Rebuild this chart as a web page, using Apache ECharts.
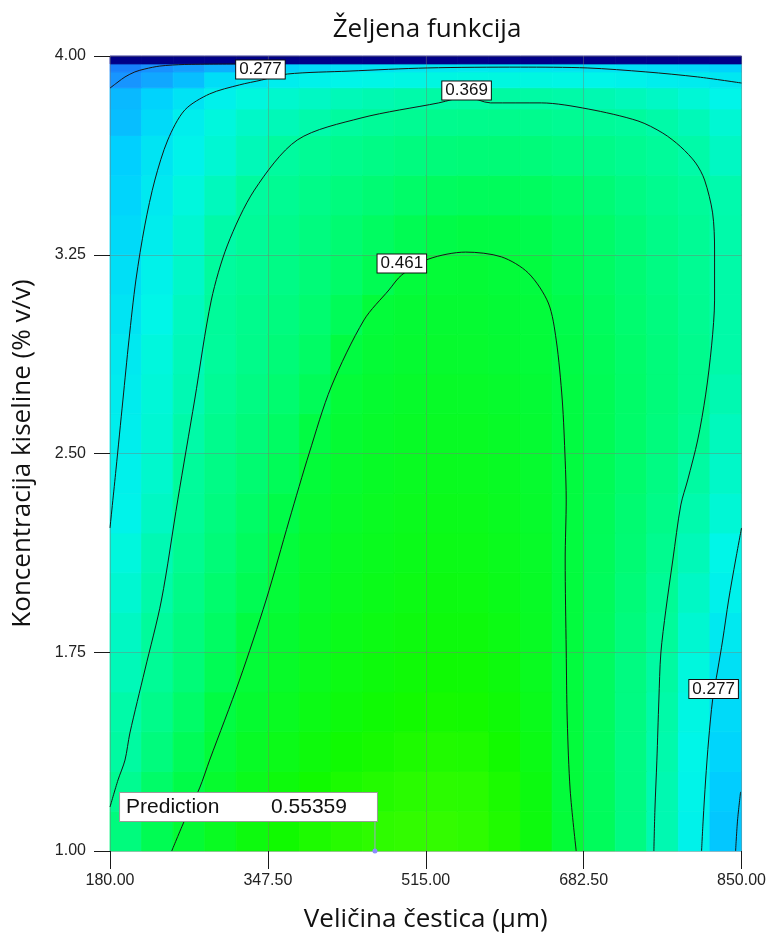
<!DOCTYPE html>
<html>
<head>
<meta charset="utf-8">
<script src="https://cdn.jsdelivr.net/npm/echarts@6/dist/echarts.min.js"></script>
<style>
html, body { margin: 0; padding: 0; background: #ffffff; }
#chart { width: 769px; height: 951px; }
</style>
</head>
<body>
<div id="chart"></div>
<script>
// ---- axes -------------------------------------------------------------
const xRange = [180, 850];          // particle size, µm
const yRange = [1.00, 4.00];        // acid concentration, % v/v
const xTickValues = [180, 347.5, 515, 682.5, 850];
const yTickValues = [1.00, 1.75, 2.50, 3.25, 4.00];

// ---- desirability surface, sampled on a 20 x 23 grid --------------------
// row boundaries along the concentration axis (finer near the upper edge)
const rowEdges = [1.00, 1.15, 1.30, 1.45, 1.60, 1.75, 1.90, 2.05, 2.20, 2.35, 2.50,
                  2.65, 2.80, 2.95, 3.10, 3.25, 3.40, 3.55, 3.70, 3.80, 3.88, 3.94, 3.97, 4.00];
const columnCount = 20;

// one array per row, left (180 µm) to right (850 µm)
const d_100 = [0.400,0.440,0.470,0.490,0.510,0.525,0.537,0.547,0.553,0.557,0.558,0.553,0.540,0.510,0.468,0.432,0.396,0.352,0.293,0.215];
const d_115 = [0.382,0.420,0.450,0.477,0.497,0.512,0.525,0.535,0.543,0.548,0.550,0.548,0.535,0.508,0.464,0.430,0.396,0.352,0.296,0.222];
const d_130 = [0.367,0.400,0.435,0.466,0.485,0.500,0.513,0.523,0.531,0.537,0.540,0.538,0.527,0.503,0.462,0.428,0.395,0.356,0.300,0.235];
const d_145 = [0.360,0.388,0.420,0.455,0.475,0.490,0.503,0.513,0.521,0.527,0.530,0.528,0.518,0.497,0.461,0.428,0.396,0.360,0.305,0.245];
const d_160 = [0.345,0.377,0.405,0.438,0.467,0.482,0.495,0.505,0.512,0.518,0.521,0.520,0.511,0.492,0.460,0.428,0.397,0.366,0.310,0.257];
const d_175 = [0.335,0.372,0.398,0.425,0.457,0.474,0.488,0.498,0.505,0.510,0.513,0.512,0.504,0.488,0.460,0.430,0.400,0.372,0.322,0.275];
const d_190 = [0.322,0.360,0.390,0.415,0.440,0.467,0.481,0.492,0.499,0.504,0.507,0.506,0.499,0.485,0.460,0.432,0.405,0.377,0.333,0.290];
const d_205 = [0.310,0.350,0.382,0.405,0.430,0.463,0.477,0.487,0.494,0.499,0.502,0.501,0.495,0.482,0.459,0.434,0.410,0.383,0.345,0.300];
const d_220 = [0.295,0.335,0.375,0.398,0.422,0.450,0.472,0.482,0.490,0.495,0.498,0.497,0.491,0.479,0.458,0.435,0.412,0.390,0.355,0.318];
const d_235 = [0.290,0.325,0.372,0.392,0.412,0.435,0.466,0.477,0.485,0.490,0.493,0.492,0.487,0.476,0.458,0.437,0.416,0.395,0.366,0.330];
const d_250 = [0.285,0.320,0.360,0.385,0.403,0.425,0.455,0.472,0.480,0.485,0.488,0.487,0.483,0.473,0.457,0.438,0.419,0.400,0.380,0.340];
const d_265 = [0.280,0.315,0.350,0.378,0.395,0.413,0.435,0.467,0.475,0.480,0.483,0.482,0.478,0.470,0.456,0.438,0.420,0.403,0.385,0.352];
const d_280 = [0.275,0.310,0.345,0.372,0.388,0.405,0.423,0.457,0.469,0.474,0.477,0.476,0.472,0.466,0.452,0.435,0.418,0.402,0.385,0.360];
const d_295 = [0.265,0.300,0.338,0.373,0.385,0.398,0.413,0.435,0.465,0.470,0.473,0.473,0.469,0.464,0.447,0.430,0.413,0.398,0.382,0.360];
const d_310 = [0.255,0.293,0.330,0.369,0.380,0.392,0.405,0.420,0.440,0.463,0.468,0.469,0.465,0.458,0.440,0.425,0.410,0.395,0.380,0.360];
const d_325 = [0.245,0.283,0.322,0.360,0.375,0.387,0.398,0.412,0.427,0.440,0.450,0.455,0.453,0.445,0.432,0.420,0.405,0.390,0.378,0.358];
const d_340 = [0.235,0.275,0.310,0.340,0.369,0.380,0.390,0.400,0.410,0.420,0.428,0.432,0.432,0.428,0.420,0.408,0.395,0.383,0.373,0.355];
const d_355 = [0.225,0.265,0.295,0.320,0.345,0.368,0.378,0.385,0.392,0.398,0.403,0.406,0.406,0.403,0.397,0.390,0.382,0.373,0.360,0.335];
const d_370 = [0.205,0.245,0.285,0.310,0.330,0.345,0.357,0.368,0.375,0.380,0.384,0.386,0.386,0.384,0.380,0.375,0.370,0.360,0.345,0.320];
const d_380 = [0.200,0.230,0.262,0.290,0.310,0.325,0.335,0.345,0.352,0.358,0.363,0.366,0.366,0.364,0.360,0.352,0.343,0.333,0.318,0.298];
const d_388 = [0.160,0.180,0.205,0.250,0.272,0.285,0.293,0.298,0.302,0.305,0.307,0.308,0.308,0.307,0.304,0.298,0.292,0.285,0.280,0.270];
const d_394 = [0.140,0.155,0.170,0.190,0.210,0.230,0.245,0.255,0.262,0.267,0.270,0.272,0.272,0.270,0.267,0.262,0.255,0.248,0.240,0.230];
const d_397 = [0,0,0,0,0,0,0,0,0,0,0,0,0,0,0,0,0,0,0,0];
const surfaceRows = [d_100, d_115, d_130, d_145, d_160, d_175, d_190, d_205, d_220, d_235, d_250, d_265,
                     d_280, d_295, d_310, d_325, d_340, d_355, d_370, d_380, d_388, d_394, d_397];

// ---- contour lines [µm, % v/v] ----------------------------------------
const contourLevels = [0.185, 0.277, 0.369, 0.461];
const contour185TopLeft = [[180,3.879],[188.5,3.902],[195.9,3.921],[206.4,3.940],[217.0,3.951],[232.8,3.962],[259.3,3.968],[317.4,3.970]];
const contour185BottomRight = [[849.0,1.223],[845.8,1.117],[843.7,1.0]];
const contour277Left = [[180,2.219],[186.3,2.438],[193.7,2.702],[200.1,2.928],[207.5,3.155],[217.0,3.362],[227.6,3.532],
  [241.3,3.683],[259.3,3.796],[285.7,3.857],[317.4,3.891],[340.6,3.909],[368.1,3.932],[433.6,3.943],[517.1,3.955],
  [615.4,3.958],[686.2,3.955],[748.5,3.940],[803.5,3.921],[850,3.898]];
const contour277Right = [[850,2.219],[843.7,2.098],[836.3,1.947],[830.0,1.796],[824.7,1.683],[819.3,1.570],[815.1,1.419],
  [811.9,1.268],[809.3,1.117],[807.6,1.0]];
const contour369 = [[180,1.166],[188.5,1.268],[195.9,1.343],[201.1,1.445],[217.0,1.683],[234.6,1.947],[251.9,2.325],
  [269.8,2.702],[287.5,3.079],[304.7,3.287],[333.2,3.494],[378.7,3.683],[446.3,3.766],[528.7,3.823],[558.3,3.845],
  [583.7,3.823],[637.6,3.823],[687.3,3.800],[740.1,3.755],[766.5,3.709],[785.6,3.657],[801.4,3.596],[810.8,3.532],
  [819.3,3.408],[821.4,3.268],[821.4,3.079],[818.3,2.909],[811.9,2.721],[803.5,2.551],[792.9,2.400],[785.6,2.306],
  [777.1,2.098],[769.7,1.909],[764.4,1.747],[762.3,1.570],[760.2,1.343],[758.1,1.155],[757.0,1.0]];
const contour461 = [[245.5,1.0],[259.3,1.117],[275.1,1.238],[285.7,1.343],[317.4,1.645],[345.6,1.947],[370.2,2.249],
  [391.4,2.502],[414.6,2.751],[449.5,3.004],[475.9,3.117],[489.6,3.174],[518.2,3.234],[557.3,3.260],[595.3,3.242],
  [623.8,3.181],[645.0,3.068],[653.4,2.928],[659.8,2.702],[662.9,2.475],[664.0,2.325],[662.9,2.098],[664.0,1.758],
  [665.1,1.494],[668.2,1.230],[674.6,1.0]];

// label anchors on the contours: [µm, % v/v, level]
const contourLabelPoints = [[339.6,3.949,0.277],[558.3,3.870,0.369],[489.6,3.217,0.461],[820.4,1.611,0.277]];

// predicted point shown in the callout
const predictionPoint = [461.1, 1.00];
const predictionValue = 0.55359;

// ---- build cells -------------------------------------------------------
const colStep = (xRange[1] - xRange[0]) / columnCount;
const cells = [];
surfaceRows.forEach((row, j) => {
  row.forEach((v, i) => {
    cells.push([xRange[0] + i * colStep, xRange[0] + (i + 1) * colStep, rowEdges[j], rowEdges[j + 1], v]);
  });
});

const lineColor = '#161616';
function contourSeries(points, name) {
  return {
    type: 'line', name: name, data: points, showSymbol: false, symbol: 'none',
    smooth: 0.3, z: 4, silent: true,
    lineStyle: { color: lineColor, width: 1 }
  };
}

const chart = echarts.init(document.getElementById('chart'), null, { renderer: 'canvas' });
const axisFont = 'Liberation Sans, Arial, sans-serif';
const titleFont = 'Open Sans, DejaVu Sans, sans-serif';
const gridLine = { show: true, lineStyle: { color: 'rgba(120,120,120,0.42)', width: 1 } };

chart.setOption({
  animation: false,
  backgroundColor: '#ffffff',
  grid: { left: 110, right: 25, top: 56, bottom: 100, containLabel: false },
  graphic: [{
    type: 'text', x: 427, y: 30,
    style: { text: 'Željena funkcija', font: '26px ' + titleFont, fill: '#111', align: 'center', verticalAlign: 'middle' }
  }],
  visualMap: {
    show: false, type: 'continuous', min: 0, max: 0.6, dimension: 4, seriesIndex: 0,
    inRange: { color: ['#000088', '#0038e8', '#1a8cff', '#00d0ff', '#00f6e8', '#00fb98', '#00fc48', '#10fa00', '#60ff00'] }
  },
  xAxis: {
    type: 'value', min: xRange[0], max: xRange[1], interval: xTickValues[1] - xTickValues[0], z: 3,
    axisLine: { show: false },
    axisTick: { show: true, length: 18, lineStyle: { color: '#1a1a1a', width: 1 } },
    axisLabel: { fontFamily: axisFont, fontSize: 16, color: '#222', margin: 22, formatter: v => v.toFixed(2) },
    splitLine: gridLine,
    name: 'Veličina čestica (µm)', nameLocation: 'middle', nameGap: 56,
    nameTextStyle: { fontFamily: titleFont, fontSize: 26, color: '#111' }
  },
  yAxis: {
    type: 'value', min: yRange[0], max: yRange[1], interval: yTickValues[1] - yTickValues[0], z: 3,
    axisLine: { show: false },
    axisTick: { show: true, length: 16, lineStyle: { color: '#1a1a1a', width: 1 } },
    axisLabel: { fontFamily: axisFont, fontSize: 16, color: '#222', margin: 24, formatter: v => v.toFixed(2) },
    splitLine: gridLine,
    name: 'Koncentracija kiseline (% v/v)', nameLocation: 'middle', nameGap: 74,
    nameTextStyle: { fontFamily: titleFont, fontSize: 26, color: '#111' }
  },
  series: [
    {
      type: 'custom', name: 'desirability', data: cells, z: 1, silent: true,
      dimensions: ['x0', 'x1', 'y0', 'y1', 'd'],
      encode: { x: [0, 1], y: [2, 3] },
      renderItem: function (params, api) {
        const a = api.coord([api.value(0), api.value(3)]);
        const b = api.coord([api.value(1), api.value(2)]);
        const c = api.visual('color');
        return {
          type: 'rect',
          shape: { x: a[0], y: a[1], width: b[0] - a[0], height: b[1] - a[1] },
          style: { fill: c, stroke: c, lineWidth: 0.8 }
        };
      }
    },
    contourSeries(contour185TopLeft, String(contourLevels[0])),
    contourSeries(contour185BottomRight, String(contourLevels[0])),
    contourSeries(contour277Left, String(contourLevels[1])),
    contourSeries(contour277Right, String(contourLevels[1])),
    contourSeries(contour369, String(contourLevels[2])),
    contourSeries(contour461, String(contourLevels[3])),
    {
      type: 'scatter', name: 'levels', z: 6, silent: true,
      data: contourLabelPoints, symbolSize: 1,
      itemStyle: { color: 'rgba(0,0,0,0)', opacity: 1 },
      label: {
        show: true, position: 'inside', opacity: 1,
        formatter: p => p.value[2].toFixed(3),
        fontFamily: axisFont, fontSize: 17, color: '#111',
        backgroundColor: '#ffffff', borderColor: '#111', borderWidth: 1, padding: [1, 3, 0, 3]
      }
    },
    {
      type: 'line', name: 'callout', z: 6, silent: true, showSymbol: false, symbol: 'none',
      data: [predictionPoint, [predictionPoint[0], predictionPoint[1] + 0.112]],
      lineStyle: { color: '#9ea3c8', width: 1 }
    },
    {
      type: 'scatter', name: 'prediction', z: 7, silent: true,
      data: [predictionPoint], symbolSize: 5,
      itemStyle: { color: '#8c8cff', opacity: 1 },
      label: {
        show: true, position: [4.5, -27.5], align: 'right', verticalAlign: 'bottom', opacity: 1,
        formatter: () => '{k|Prediction}{v|' + predictionValue.toFixed(5) + '}',
        backgroundColor: '#ffffff', borderColor: '#9b9b9b', borderWidth: 1, padding: [4, 30, 3, 6],
        rich: {
          k: { fontFamily: axisFont, fontSize: 21, color: '#111', width: 145, align: 'left' },
          v: { fontFamily: axisFont, fontSize: 21, color: '#111', align: 'left' }
        }
      }
    }
  ]
});
</script>
</body>
</html>
